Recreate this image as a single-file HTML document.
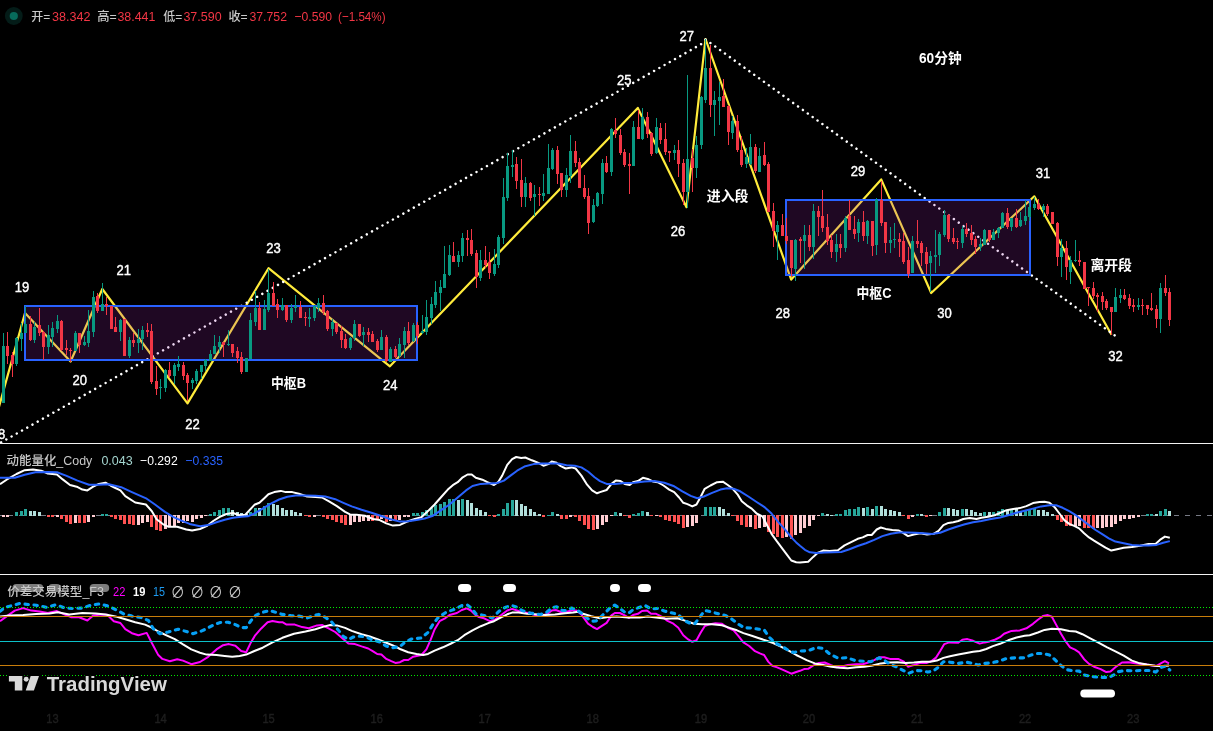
<!DOCTYPE html>
<html lang="zh"><head><meta charset="utf-8"><title>chart</title>
<style>html,body{margin:0;padding:0;background:#000;overflow:hidden}svg{display:block}</style></head>
<body>
<svg width="1213" height="731" viewBox="0 0 1213 731" font-family='"Liberation Sans","Noto Sans CJK SC",sans-serif'>
<rect width="1213" height="731" fill="#000"/>
<polyline points="-3.0,414.0 25.0,313.0 70.6,361.5 102.3,289.0 187.5,403.4 268.5,268.2 389.9,366.3 637.8,107.9 686.5,207.2 705.5,39.0 791.2,279.6 881.2,179.4 931.2,293.0 1034.3,196.3 1111.5,334.8" fill="none" stroke="#ffeb3b" stroke-width="2.2" stroke-linejoin="round"/>
<polyline points="-4.1,445.4 705.5,41.7" fill="none" stroke="#fff" stroke-width="2.5" stroke-dasharray="0.01 6" stroke-linecap="round"/>
<polyline points="705.5,39.5 1116.5,336.7" fill="none" stroke="#fff" stroke-width="2.5" stroke-dasharray="0.01 6" stroke-linecap="round"/>
<rect x="25" y="306" width="392" height="54" fill="rgba(156,39,176,0.2)" stroke="#2962ff" stroke-width="2"/>
<rect x="786" y="200" width="244" height="75" fill="rgba(156,39,176,0.2)" stroke="#2962ff" stroke-width="2"/>
<path d="M3.5 333V403M16.5 337V366M21.5 323V351M25.5 306V333M34.5 322V343M48.5 325V354M52.5 322V347M57.5 315V333M75.5 331V351M84.5 336V346M88.5 310V347M93.5 291V337M102.5 283V311M120.5 319V341M129.5 337V358M138.5 329V353M142.5 326V350M160.5 379V399M165.5 369V392M174.5 363V384M178.5 356V371M192.5 378V389M196.5 369V384M201.5 365V379M205.5 359V371M210.5 350V361M214.5 335V354M219.5 336V353M228.5 330V346M246.5 358V372M250.5 313V359M255.5 291V326M264.5 300V330M268.5 269V312M282.5 298V311M291.5 304V323M295.5 295V312M309.5 308V327M314.5 305V321M318.5 298V312M332.5 319V336M350.5 337V350M354.5 320V341M363.5 327V346M381.5 330V350M390.5 347V362M399.5 338V358M404.5 327V358M413.5 323V342M422.5 315V334M426.5 300V335M431.5 297V324M435.5 281V308M440.5 280V311M444.5 246V288M449.5 245V276M458.5 251V267M462.5 233V262M480.5 250V281M494.5 249V276M498.5 235V268M503.5 178V244M507.5 153V201M512.5 150V177M525.5 177V207M534.5 185V216M543.5 174V201M548.5 144V194M552.5 148V170M566.5 168V197M570.5 135V183M593.5 199V223M597.5 192V207M602.5 159V204M611.5 128V176M633.5 121V166M642.5 108V140M656.5 118V154M674.5 145V160M687.5 75V208M696.5 136V178M701.5 96V149M705.5 39V103M714.5 91V136M719.5 82V125M732.5 116V139M746.5 148V168M750.5 134V165M759.5 148V172M777.5 221V260M795.5 239V281M804.5 225V269M813.5 204V259M836.5 234V262M845.5 216V252M858.5 219V242M867.5 220V244M876.5 198V255M890.5 227V253M894.5 223V248M912.5 236V273M930.5 251V292M935.5 230V273M939.5 232V266M944.5 210V237M962.5 226V248M980.5 238V251M984.5 229V245M993.5 229V240M998.5 227V238M1002.5 212V228M1011.5 218V231M1020.5 212V227M1025.5 200V225M1029.5 203V221M1034.5 197V210M1043.5 204V217M1061.5 239V277M1070.5 256V284M1075.5 240V262M1115.5 288V312M1120.5 289V303M1138.5 298V310M1160.5 283V333" stroke="#089981" stroke-width="1" fill="none" shape-rendering="crispEdges"/>
<path d="M2 346h3v57h-3zM15 338h3v26h-3zM20 333h3v6h-3zM24 324h3v9h-3zM33 327h3v13h-3zM47 335h3v12h-3zM51 328h3v9h-3zM56 321h3v8h-3zM74 333h3v18h-3zM83 342h3v3h-3zM87 331h3v12h-3zM92 297h3v35h-3zM101 304h3v7h-3zM119 320h3v12h-3zM128 340h3v16h-3zM137 339h3v4h-3zM141 330h3v9h-3zM159 387h3v1h-3zM164 370h3v18h-3zM173 365h3v11h-3zM177 364h3v3h-3zM191 380h3v3h-3zM195 371h3v10h-3zM200 365h3v7h-3zM204 360h3v6h-3zM209 354h3v7h-3zM213 346h3v8h-3zM218 342h3v5h-3zM227 344h3v1h-3zM245 358h3v14h-3zM249 320h3v39h-3zM254 308h3v14h-3zM263 309h3v21h-3zM267 293h3v17h-3zM281 305h3v5h-3zM290 308h3v12h-3zM294 306h3v2h-3zM308 317h3v2h-3zM313 306h3v12h-3zM317 303h3v5h-3zM331 322h3v7h-3zM349 338h3v10h-3zM353 324h3v14h-3zM362 332h3v3h-3zM380 337h3v13h-3zM389 349h3v13h-3zM398 344h3v12h-3zM403 331h3v14h-3zM412 325h3v16h-3zM421 331h3v2h-3zM425 317h3v15h-3zM430 304h3v14h-3zM434 292h3v13h-3zM439 287h3v6h-3zM443 274h3v14h-3zM448 255h3v20h-3zM457 255h3v7h-3zM461 238h3v18h-3zM479 260h3v18h-3zM493 264h3v10h-3zM497 237h3v28h-3zM502 197h3v41h-3zM506 166h3v32h-3zM511 165h3v2h-3zM524 183h3v14h-3zM533 194h3v3h-3zM542 193h3v3h-3zM547 168h3v26h-3zM551 150h3v19h-3zM565 175h3v15h-3zM569 151h3v25h-3zM592 205h3v17h-3zM596 193h3v13h-3zM601 163h3v31h-3zM610 129h3v43h-3zM632 127h3v39h-3zM641 117h3v22h-3zM655 127h3v26h-3zM673 150h3v3h-3zM686 159h3v33h-3zM695 145h3v23h-3zM700 97h3v48h-3zM704 68h3v32h-3zM713 100h3v5h-3zM718 97h3v4h-3zM731 121h3v12h-3zM745 157h3v7h-3zM749 147h3v17h-3zM758 156h3v16h-3zM776 225h3v7h-3zM794 240h3v29h-3zM803 235h3v6h-3zM812 211h3v36h-3zM835 244h3v8h-3zM844 218h3v30h-3zM857 222h3v11h-3zM866 221h3v15h-3zM875 200h3v45h-3zM889 240h3v3h-3zM893 239h3v1h-3zM911 241h3v32h-3zM929 256h3v7h-3zM934 255h3v2h-3zM938 234h3v21h-3zM943 215h3v20h-3zM961 229h3v14h-3zM979 244h3v3h-3zM983 230h3v15h-3zM992 232h3v8h-3zM997 228h3v5h-3zM1001 213h3v15h-3zM1010 218h3v9h-3zM1019 220h3v6h-3zM1024 216h3v5h-3zM1028 207h3v10h-3zM1033 204h3v4h-3zM1042 206h3v4h-3zM1060 248h3v9h-3zM1069 260h3v12h-3zM1074 260h3v1h-3zM1114 297h3v15h-3zM1119 295h3v3h-3zM1137 305h3v2h-3zM1159 288h3v31h-3z" fill="#089981" shape-rendering="crispEdges"/>
<path d="M7.5 332V364M12.5 352V377M30.5 316V341M39.5 308V336M43.5 331V360M61.5 320V351M66.5 340V355M70.5 348V362M79.5 333V353M97.5 293V313M106.5 297V315M111.5 306V329M115.5 317V332M124.5 319V356M133.5 333V347M147.5 323V337M151.5 324V384M156.5 366V395M169.5 362V378M183.5 362V380M187.5 373V401M223.5 342V357M232.5 344V357M237.5 347V363M241.5 352V374M259.5 302V330M273.5 282V306M277.5 299V318M286.5 305V322M300.5 301V318M305.5 312V326M323.5 295V315M327.5 310V331M336.5 323V334M341.5 326V348M345.5 334V349M359.5 324V337M368.5 328V342M372.5 331V342M377.5 339V352M386.5 335V362M395.5 346V358M408.5 322V345M417.5 322V344M453.5 242V262M467.5 230V256M471.5 229V256M476.5 250V288M485.5 246V268M489.5 252V279M516.5 157V189M521.5 159V207M530.5 182V201M539.5 187V206M557.5 146V184M561.5 173V197M575.5 141V167M579.5 158V188M584.5 175V199M588.5 188V234M606.5 156V173M615.5 118V138M620.5 129V155M624.5 149V167M629.5 153V194M638.5 110V139M647.5 112V138M651.5 132V156M660.5 123V144M665.5 123V155M669.5 151V162M678.5 140V177M683.5 159V205M692.5 149V192M710.5 45V117M723.5 79V107M728.5 105V145M737.5 115V152M741.5 136V167M755.5 144V173M764.5 142V166M768.5 162V212M773.5 203V247M782.5 214V236M786.5 218V244M791.5 240V277M800.5 237V263M809.5 225V251M818.5 206V236M822.5 190V232M827.5 214V245M831.5 235V258M840.5 234V258M849.5 200V230M854.5 216V239M863.5 211V241M872.5 221V256M881.5 181V226M885.5 222V253M899.5 233V257M903.5 233V264M908.5 247V278M917.5 220V248M921.5 241V266M926.5 247V274M948.5 214V242M953.5 228V244M957.5 238V249M966.5 223V237M971.5 225V245M975.5 236V254M989.5 230V242M1007.5 208V229M1016.5 209V228M1038.5 199V210M1047.5 204V216M1052.5 212V224M1057.5 222V266M1066.5 241V280M1079.5 251V266M1084.5 262V289M1088.5 287V306M1093.5 282V299M1097.5 293V312M1102.5 292V310M1106.5 299V310M1111.5 307V335M1124.5 289V300M1129.5 294V309M1133.5 299V312M1142.5 299V315M1147.5 305V315M1151.5 293V311M1156.5 305V328M1165.5 275V296M1169.5 288V326" stroke="#f23645" stroke-width="1" fill="none" shape-rendering="crispEdges"/>
<path d="M6 346h3v10h-3zM11 355h3v9h-3zM29 324h3v16h-3zM38 325h3v8h-3zM42 332h3v15h-3zM60 321h3v29h-3zM65 348h3v2h-3zM69 350h3v1h-3zM78 333h3v12h-3zM96 296h3v15h-3zM105 304h3v2h-3zM110 306h3v23h-3zM114 327h3v5h-3zM123 319h3v37h-3zM132 340h3v3h-3zM146 330h3v2h-3zM150 331h3v51h-3zM155 381h3v8h-3zM168 370h3v6h-3zM182 365h3v11h-3zM186 375h3v8h-3zM222 342h3v3h-3zM231 344h3v9h-3zM236 351h3v7h-3zM240 357h3v15h-3zM258 308h3v22h-3zM272 293h3v13h-3zM276 304h3v6h-3zM285 305h3v15h-3zM299 307h3v11h-3zM304 317h3v1h-3zM322 303h3v9h-3zM326 311h3v18h-3zM335 323h3v9h-3zM340 331h3v9h-3zM344 339h3v9h-3zM358 324h3v12h-3zM367 332h3v3h-3zM371 334h3v8h-3zM376 341h3v9h-3zM385 337h3v24h-3zM394 349h3v8h-3zM407 331h3v12h-3zM416 325h3v11h-3zM452 256h3v6h-3zM466 238h3v2h-3zM470 240h3v14h-3zM475 253h3v24h-3zM484 260h3v5h-3zM488 262h3v11h-3zM515 164h3v17h-3zM520 180h3v17h-3zM529 183h3v15h-3zM538 194h3v1h-3zM556 150h3v24h-3zM560 173h3v17h-3zM574 151h3v12h-3zM578 162h3v26h-3zM583 188h3v9h-3zM587 196h3v27h-3zM605 163h3v9h-3zM614 130h3v4h-3zM619 135h3v18h-3zM623 152h3v13h-3zM628 164h3v2h-3zM637 127h3v12h-3zM646 117h3v17h-3zM650 133h3v21h-3zM659 128h3v12h-3zM664 139h3v13h-3zM668 151h3v2h-3zM677 150h3v14h-3zM682 163h3v29h-3zM691 158h3v10h-3zM709 68h3v37h-3zM722 96h3v11h-3zM727 106h3v26h-3zM736 121h3v29h-3zM740 150h3v15h-3zM754 147h3v24h-3zM763 155h3v10h-3zM767 164h3v48h-3zM772 211h3v20h-3zM781 225h3v11h-3zM785 236h3v5h-3zM790 240h3v28h-3zM799 239h3v2h-3zM808 235h3v12h-3zM817 211h3v6h-3zM821 216h3v12h-3zM826 227h3v14h-3zM830 240h3v12h-3zM839 244h3v4h-3zM848 216h3v14h-3zM853 229h3v5h-3zM862 222h3v14h-3zM871 221h3v25h-3zM880 200h3v23h-3zM884 222h3v21h-3zM898 239h3v3h-3zM902 241h3v21h-3zM907 260h3v14h-3zM916 241h3v3h-3zM920 243h3v10h-3zM925 252h3v12h-3zM947 215h3v24h-3zM952 238h3v4h-3zM956 241h3v1h-3zM965 229h3v5h-3zM970 233h3v7h-3zM974 239h3v8h-3zM988 230h3v10h-3zM1006 213h3v14h-3zM1015 218h3v9h-3zM1037 204h3v5h-3zM1046 206h3v8h-3zM1051 212h3v12h-3zM1056 223h3v34h-3zM1065 248h3v19h-3zM1078 260h3v2h-3zM1083 262h3v27h-3zM1087 287h3v1h-3zM1092 288h3v8h-3zM1096 295h3v2h-3zM1101 296h3v6h-3zM1105 301h3v7h-3zM1110 307h3v5h-3zM1123 295h3v4h-3zM1128 298h3v8h-3zM1132 305h3v2h-3zM1141 305h3v1h-3zM1146 305h3v4h-3zM1150 308h3v2h-3zM1155 309h3v10h-3zM1164 288h3v5h-3zM1168 292h3v28h-3z" fill="#f23645" shape-rendering="crispEdges"/>
<text x="-2" y="439" font-size="14" fill="#fff" font-weight="normal" text-anchor="middle" textLength="14.5" lengthAdjust="spacingAndGlyphs" stroke="#fff" stroke-width="0.4">18</text>
<text x="22" y="292" font-size="14" fill="#fff" font-weight="normal" text-anchor="middle" textLength="14.5" lengthAdjust="spacingAndGlyphs" stroke="#fff" stroke-width="0.4">19</text>
<text x="79.7" y="384.6" font-size="14" fill="#fff" font-weight="normal" text-anchor="middle" textLength="14.5" lengthAdjust="spacingAndGlyphs" stroke="#fff" stroke-width="0.4">20</text>
<text x="123.7" y="275" font-size="14" fill="#fff" font-weight="normal" text-anchor="middle" textLength="14.5" lengthAdjust="spacingAndGlyphs" stroke="#fff" stroke-width="0.4">21</text>
<text x="192.5" y="429" font-size="14" fill="#fff" font-weight="normal" text-anchor="middle" textLength="14.5" lengthAdjust="spacingAndGlyphs" stroke="#fff" stroke-width="0.4">22</text>
<text x="273.5" y="253" font-size="14" fill="#fff" font-weight="normal" text-anchor="middle" textLength="14.5" lengthAdjust="spacingAndGlyphs" stroke="#fff" stroke-width="0.4">23</text>
<text x="390.3" y="390" font-size="14" fill="#fff" font-weight="normal" text-anchor="middle" textLength="14.5" lengthAdjust="spacingAndGlyphs" stroke="#fff" stroke-width="0.4">24</text>
<text x="624.3" y="85" font-size="14" fill="#fff" font-weight="normal" text-anchor="middle" textLength="14.5" lengthAdjust="spacingAndGlyphs" stroke="#fff" stroke-width="0.4">25</text>
<text x="678" y="236" font-size="14" fill="#fff" font-weight="normal" text-anchor="middle" textLength="14.5" lengthAdjust="spacingAndGlyphs" stroke="#fff" stroke-width="0.4">26</text>
<text x="686.7" y="41" font-size="14" fill="#fff" font-weight="normal" text-anchor="middle" textLength="14.5" lengthAdjust="spacingAndGlyphs" stroke="#fff" stroke-width="0.4">27</text>
<text x="782.8" y="317.5" font-size="14" fill="#fff" font-weight="normal" text-anchor="middle" textLength="14.5" lengthAdjust="spacingAndGlyphs" stroke="#fff" stroke-width="0.4">28</text>
<text x="858" y="176" font-size="14" fill="#fff" font-weight="normal" text-anchor="middle" textLength="14.5" lengthAdjust="spacingAndGlyphs" stroke="#fff" stroke-width="0.4">29</text>
<text x="944.6" y="317.5" font-size="14" fill="#fff" font-weight="normal" text-anchor="middle" textLength="14.5" lengthAdjust="spacingAndGlyphs" stroke="#fff" stroke-width="0.4">30</text>
<text x="1043" y="178.3" font-size="14" fill="#fff" font-weight="normal" text-anchor="middle" textLength="14.5" lengthAdjust="spacingAndGlyphs" stroke="#fff" stroke-width="0.4">31</text>
<text x="1115.4" y="361" font-size="14" fill="#fff" font-weight="normal" text-anchor="middle" textLength="14.5" lengthAdjust="spacingAndGlyphs" stroke="#fff" stroke-width="0.4">32</text>
<text x="288.5" y="387.5" font-size="14" fill="#fff" font-weight="bold" text-anchor="middle" textLength="35" lengthAdjust="spacingAndGlyphs" >中枢B</text>
<text x="874" y="298" font-size="14" fill="#fff" font-weight="bold" text-anchor="middle" textLength="35" lengthAdjust="spacingAndGlyphs" >中枢C</text>
<text x="727.6" y="201" font-size="14" fill="#fff" font-weight="bold" text-anchor="middle" textLength="41.7" lengthAdjust="spacingAndGlyphs" >进入段</text>
<text x="1111.2" y="270" font-size="14" fill="#fff" font-weight="bold" text-anchor="middle" textLength="41.6" lengthAdjust="spacingAndGlyphs" >离开段</text>
<text x="940.3" y="62.5" font-size="14" fill="#fff" font-weight="bold" text-anchor="middle" textLength="42.6" lengthAdjust="spacingAndGlyphs" >60分钟</text>
<circle cx="13.8" cy="16" r="8.9" fill="#041c18"/><circle cx="13.8" cy="16" r="4.1" fill="#076b5b"/>
<text x="31.3" y="21" font-size="12" fill="#c8c8c8" font-weight="500" text-anchor="start" textLength="19" lengthAdjust="spacingAndGlyphs" >开=</text>
<text x="51.9" y="21" font-size="13" fill="#f23645" font-weight="500" text-anchor="start" textLength="38.5" lengthAdjust="spacingAndGlyphs" >38.342</text>
<text x="97.3" y="21" font-size="12" fill="#c8c8c8" font-weight="500" text-anchor="start" textLength="19.5" lengthAdjust="spacingAndGlyphs" >高=</text>
<text x="117.4" y="21" font-size="13" fill="#f23645" font-weight="500" text-anchor="start" textLength="38" lengthAdjust="spacingAndGlyphs" >38.441</text>
<text x="163.2" y="21" font-size="12" fill="#c8c8c8" font-weight="500" text-anchor="start" textLength="19" lengthAdjust="spacingAndGlyphs" >低=</text>
<text x="183.4" y="21" font-size="13" fill="#f23645" font-weight="500" text-anchor="start" textLength="38.2" lengthAdjust="spacingAndGlyphs" >37.590</text>
<text x="228.4" y="21" font-size="12" fill="#c8c8c8" font-weight="500" text-anchor="start" textLength="19.2" lengthAdjust="spacingAndGlyphs" >收=</text>
<text x="249.4" y="21" font-size="13" fill="#f23645" font-weight="500" text-anchor="start" textLength="37.6" lengthAdjust="spacingAndGlyphs" >37.752</text>
<text x="294.4" y="21" font-size="13" fill="#f23645" font-weight="500" text-anchor="start" textLength="37.6" lengthAdjust="spacingAndGlyphs" >−0.590</text>
<text x="338" y="21" font-size="13" fill="#f23645" font-weight="500" text-anchor="start" textLength="47.6" lengthAdjust="spacingAndGlyphs" >(−1.54%)</text>
<rect x="0" y="443" width="1213" height="1" fill="#f2f2f2"/>
<rect x="0" y="574" width="1213" height="1" fill="#f2f2f2"/>
<path d="M0 515.5H1213" stroke="#787b86" stroke-width="1" stroke-dasharray="5 6" stroke-dashoffset="3"/>
<path d="M15 512h3v4h-3zM20 511h3v5h-3zM24 509h3v7h-3zM101 514h3v2h-3zM105 514h3v2h-3zM209 514h3v2h-3zM213 512h3v4h-3zM218 510h3v6h-3zM222 508h3v8h-3zM227 508h3v8h-3zM249 512h3v4h-3zM254 508h3v8h-3zM263 506h3v10h-3zM267 503h3v13h-3zM412 513h3v3h-3zM416 513h3v3h-3zM421 512h3v4h-3zM425 510h3v6h-3zM430 508h3v8h-3zM434 505h3v11h-3zM439 504h3v12h-3zM443 502h3v14h-3zM448 499h3v17h-3zM452 499h3v17h-3zM461 499h3v17h-3zM497 514h3v2h-3zM502 509h3v7h-3zM506 503h3v13h-3zM511 500h3v16h-3zM547 515h3v1h-3zM551 512h3v4h-3zM614 512h3v4h-3zM632 514h3v2h-3zM637 513h3v3h-3zM641 511h3v5h-3zM704 507h3v9h-3zM709 507h3v9h-3zM713 507h3v9h-3zM821 513h3v3h-3zM835 514h3v2h-3zM839 514h3v2h-3zM844 510h3v6h-3zM848 509h3v7h-3zM853 509h3v7h-3zM857 507h3v9h-3zM866 507h3v9h-3zM875 506h3v10h-3zM916 514h3v2h-3zM938 512h3v4h-3zM943 508h3v8h-3zM961 509h3v7h-3zM983 512h3v4h-3zM992 512h3v4h-3zM997 511h3v5h-3zM1001 509h3v7h-3zM1010 510h3v6h-3zM1024 511h3v5h-3zM1028 510h3v6h-3zM1033 508h3v8h-3zM1146 514h3v2h-3zM1150 514h3v2h-3zM1159 511h3v5h-3zM1164 509h3v7h-3z" fill="#26a69a" shape-rendering="crispEdges"/>
<path d="M2 515h3v2h-3zM6 515h3v2h-3zM56 515h3v2h-3zM74 515h3v8h-3zM87 515h3v7h-3zM92 515h3v2h-3zM137 515h3v10h-3zM141 515h3v8h-3zM146 515h3v7h-3zM164 515h3v14h-3zM168 515h3v12h-3zM173 515h3v11h-3zM177 515h3v8h-3zM182 515h3v8h-3zM186 515h3v6h-3zM191 515h3v7h-3zM195 515h3v4h-3zM200 515h3v3h-3zM204 515h3v1h-3zM313 515h3v2h-3zM349 515h3v10h-3zM353 515h3v7h-3zM358 515h3v7h-3zM362 515h3v6h-3zM367 515h3v6h-3zM380 515h3v4h-3zM389 515h3v6h-3zM398 515h3v5h-3zM403 515h3v2h-3zM407 515h3v2h-3zM569 515h3v2h-3zM596 515h3v14h-3zM601 515h3v10h-3zM605 515h3v7h-3zM610 515h3v1h-3zM655 515h3v1h-3zM686 515h3v12h-3zM691 515h3v11h-3zM695 515h3v8h-3zM749 515h3v12h-3zM758 515h3v13h-3zM763 515h3v12h-3zM785 515h3v22h-3zM794 515h3v20h-3zM799 515h3v18h-3zM803 515h3v13h-3zM808 515h3v11h-3zM812 515h3v5h-3zM817 515h3v1h-3zM911 515h3v2h-3zM929 515h3v1h-3zM1074 515h3v11h-3zM1078 515h3v11h-3zM1096 515h3v13h-3zM1101 515h3v13h-3zM1105 515h3v12h-3zM1110 515h3v12h-3zM1114 515h3v9h-3zM1119 515h3v6h-3zM1123 515h3v4h-3zM1128 515h3v4h-3zM1132 515h3v3h-3zM1137 515h3v2h-3z" fill="#ffcdd2" shape-rendering="crispEdges"/>
<path d="M29 511h3v5h-3zM33 511h3v5h-3zM38 512h3v4h-3zM231 510h3v6h-3zM236 512h3v4h-3zM240 513h3v3h-3zM245 514h3v2h-3zM258 508h3v8h-3zM272 504h3v12h-3zM276 505h3v11h-3zM281 508h3v8h-3zM285 510h3v6h-3zM290 510h3v6h-3zM294 512h3v4h-3zM299 513h3v3h-3zM457 500h3v16h-3zM466 500h3v16h-3zM470 503h3v13h-3zM475 508h3v8h-3zM479 510h3v6h-3zM484 512h3v4h-3zM515 500h3v16h-3zM520 504h3v12h-3zM524 506h3v10h-3zM529 509h3v7h-3zM533 512h3v4h-3zM538 514h3v2h-3zM556 514h3v2h-3zM619 513h3v3h-3zM646 512h3v4h-3zM718 507h3v9h-3zM722 509h3v7h-3zM727 513h3v3h-3zM826 514h3v2h-3zM830 515h3v1h-3zM862 508h3v8h-3zM871 509h3v7h-3zM880 506h3v10h-3zM884 509h3v7h-3zM889 510h3v6h-3zM893 511h3v5h-3zM898 512h3v4h-3zM920 514h3v2h-3zM947 508h3v8h-3zM952 509h3v7h-3zM956 510h3v6h-3zM965 509h3v7h-3zM970 510h3v6h-3zM974 512h3v4h-3zM979 513h3v3h-3zM988 512h3v4h-3zM1006 510h3v6h-3zM1015 509h3v7h-3zM1019 511h3v5h-3zM1037 510h3v6h-3zM1042 510h3v6h-3zM1046 512h3v4h-3zM1051 514h3v2h-3zM1155 514h3v2h-3zM1168 511h3v5h-3z" fill="#b2dfdb" shape-rendering="crispEdges"/>
<path d="M47 515h3v2h-3zM51 515h3v2h-3zM60 515h3v4h-3zM65 515h3v7h-3zM69 515h3v9h-3zM78 515h3v8h-3zM83 515h3v8h-3zM110 515h3v2h-3zM114 515h3v4h-3zM119 515h3v5h-3zM123 515h3v9h-3zM128 515h3v9h-3zM132 515h3v10h-3zM150 515h3v12h-3zM155 515h3v15h-3zM159 515h3v16h-3zM304 515h3v1h-3zM308 515h3v2h-3zM322 515h3v2h-3zM326 515h3v4h-3zM331 515h3v5h-3zM335 515h3v7h-3zM340 515h3v8h-3zM344 515h3v10h-3zM371 515h3v6h-3zM376 515h3v4h-3zM385 515h3v7h-3zM394 515h3v6h-3zM488 515h3v1h-3zM493 515h3v2h-3zM542 515h3v2h-3zM560 515h3v4h-3zM565 515h3v4h-3zM574 515h3v2h-3zM578 515h3v6h-3zM583 515h3v10h-3zM587 515h3v14h-3zM592 515h3v15h-3zM623 515h3v1h-3zM628 515h3v3h-3zM650 515h3v1h-3zM659 515h3v2h-3zM664 515h3v5h-3zM668 515h3v6h-3zM673 515h3v7h-3zM677 515h3v9h-3zM682 515h3v13h-3zM731 515h3v1h-3zM736 515h3v6h-3zM740 515h3v10h-3zM745 515h3v12h-3zM754 515h3v14h-3zM767 515h3v17h-3zM772 515h3v19h-3zM776 515h3v22h-3zM781 515h3v23h-3zM790 515h3v24h-3zM902 515h3v1h-3zM907 515h3v4h-3zM925 515h3v2h-3zM1056 515h3v5h-3zM1060 515h3v7h-3zM1065 515h3v11h-3zM1069 515h3v11h-3zM1083 515h3v13h-3zM1087 515h3v13h-3zM1092 515h3v14h-3z" fill="#ff5252" shape-rendering="crispEdges"/>
<polyline points="0.0,484.3 6.6,479.7 16.5,474.0 24.7,470.2 33.0,469.5 41.2,470.7 47.8,473.5 56.9,474.5 62.7,479.4 70.0,485.0 76.7,486.7 82.4,489.6 87.4,490.4 93.2,486.7 98.9,483.9 105.5,482.7 110.5,485.5 115.4,488.0 120.4,490.4 125.3,496.2 135.2,502.5 145.9,504.5 151.7,511.0 156.6,519.3 163.2,524.3 168.2,526.7 177.2,526.7 186.3,529.5 192.1,530.5 200.0,529.0 206.6,526.2 213.2,521.0 219.8,516.8 226.4,514.0 233.0,513.0 239.6,515.2 245.3,514.7 249.5,510.2 254.4,504.8 259.4,502.8 264.3,498.2 268.4,494.2 274.2,492.1 280.8,490.9 285.7,492.1 292.3,492.1 298.9,493.7 307.2,496.5 315.4,497.0 322.0,497.5 328.6,501.2 336.9,506.1 345.1,511.9 350.0,514.4 356.6,514.7 364.9,515.7 373.1,519.0 379.7,520.1 386.3,523.4 392.9,525.6 400.0,524.9 406.6,521.8 414.8,519.0 421.4,517.3 428.0,511.1 434.6,504.5 441.2,497.0 447.8,489.6 452.8,485.2 457.7,482.2 462.7,477.3 467.6,474.5 471.7,474.5 475.8,477.8 482.4,479.7 487.4,482.2 494.0,485.0 498.1,482.2 502.2,475.6 507.2,464.9 512.1,459.1 516.2,457.0 521.2,458.0 525.3,457.5 531.9,460.3 538.5,462.9 543.4,465.7 548.4,464.1 551.7,461.6 555.8,462.4 560.8,466.2 565.7,468.5 571.5,467.4 575.6,468.5 581.4,475.6 587.1,484.7 592.1,490.4 597.0,493.3 600.0,492.1 606.6,490.0 611.5,483.9 615.7,480.6 620.6,481.1 624.7,483.9 629.7,485.0 633.0,482.2 637.9,481.1 642.9,477.8 647.8,478.9 652.8,481.4 657.7,482.2 663.5,485.5 669.2,489.6 674.2,492.1 679.1,497.5 683.3,502.8 687.4,504.1 692.3,506.4 696.5,504.5 700.6,497.0 704.7,488.8 710.5,485.5 717.1,482.2 722.8,481.7 727.8,485.0 732.7,488.8 737.7,494.6 741.8,501.2 746.7,505.3 751.7,508.6 756.6,513.5 762.4,516.3 766.5,524.3 771.5,533.8 776.4,540.7 781.4,547.3 786.3,553.9 791.3,560.5 796.2,562.2 800.0,562.5 808.2,561.8 813.2,556.9 818.1,552.6 823.1,550.6 829.7,551.0 837.9,550.3 844.5,545.4 851.1,542.1 857.7,538.8 862.7,537.4 867.6,535.0 871.7,535.0 876.7,529.5 880.8,527.5 885.7,528.9 892.3,530.0 898.9,530.5 903.9,533.3 908.0,536.1 913.8,534.5 920.4,533.3 927.0,534.5 933.6,533.8 938.5,530.8 943.4,525.1 948.4,522.9 953.3,522.3 958.3,521.0 963.2,519.0 969.8,518.0 976.4,519.0 981.4,517.7 988.0,516.8 994.6,515.2 1000.0,513.0 1006.6,510.2 1013.2,509.1 1019.8,508.1 1026.4,506.1 1033.0,503.1 1039.6,502.0 1044.5,501.7 1049.5,502.8 1054.4,506.9 1059.4,513.5 1064.3,520.1 1069.2,523.9 1074.2,525.9 1079.1,528.4 1084.1,533.3 1089.0,537.4 1094.0,540.7 1098.9,543.7 1105.5,547.7 1111.3,550.6 1117.1,549.3 1123.7,547.7 1131.9,547.0 1140.2,545.7 1148.4,544.0 1155.8,543.7 1159.9,539.9 1164.9,536.6 1169.8,537.8" fill="none" stroke="#fff" stroke-width="2" stroke-linejoin="round"/>
<polyline points="0.0,477.8 14.8,477.8 24.7,474.8 35.4,472.3 47.8,472.0 56.9,472.3 66.0,475.6 77.5,480.6 89.0,484.7 98.9,484.7 108.8,484.3 121.2,487.2 131.9,492.1 146.7,498.7 155.0,504.5 164.9,511.9 173.1,516.8 181.4,520.6 189.6,523.9 200.0,526.2 208.2,525.1 216.5,522.3 224.7,519.8 233.0,517.7 241.2,516.8 247.8,516.3 254.4,513.5 262.7,508.6 270.9,503.6 279.1,499.5 287.4,496.7 295.6,495.4 305.5,495.4 315.4,495.7 325.3,496.5 335.2,499.2 343.4,502.8 351.7,506.4 361.6,509.7 371.5,512.7 381.4,516.0 389.6,519.0 400.0,521.6 408.2,521.3 416.5,520.1 424.7,518.5 433.0,515.7 441.2,510.2 449.5,504.5 457.7,497.5 466.0,490.4 472.5,486.0 480.8,483.9 489.0,483.4 497.3,483.0 503.9,480.6 510.5,475.6 517.1,470.7 525.3,466.2 533.6,464.1 541.8,463.6 550.0,463.6 558.3,463.6 566.5,465.2 574.8,465.7 581.4,467.4 588.0,471.5 594.6,477.3 600.0,481.1 606.6,483.9 614.8,483.9 624.7,483.0 634.6,482.7 644.5,481.4 654.4,481.1 664.3,482.7 674.2,486.3 682.4,491.3 690.7,495.9 697.3,498.2 703.9,496.5 712.1,492.9 720.4,489.6 727.0,488.3 733.6,488.8 740.2,491.3 748.4,496.5 756.6,502.0 764.9,507.4 771.5,513.5 778.1,521.8 784.7,529.2 791.3,537.4 796.2,542.4 800.0,545.8 804.9,549.8 809.9,552.3 816.5,553.1 824.7,552.6 833.0,552.3 841.2,552.0 849.5,549.3 857.7,546.0 866.0,543.2 874.2,539.9 882.4,536.1 890.7,533.8 898.9,532.5 907.2,532.5 915.4,532.8 923.7,533.3 931.9,534.1 940.2,532.8 948.4,529.5 956.6,526.7 964.9,524.3 973.1,522.3 981.4,521.0 989.6,519.3 1000.0,517.5 1008.2,515.2 1016.5,512.7 1024.7,510.7 1033.0,508.6 1041.2,506.4 1049.5,505.3 1056.1,505.3 1062.7,507.8 1069.2,511.1 1075.8,515.2 1082.4,520.1 1089.0,525.1 1095.6,530.0 1102.2,534.1 1108.8,538.3 1115.4,541.6 1123.7,543.2 1131.9,544.9 1140.2,545.4 1148.4,545.4 1156.6,544.9 1163.2,542.7 1169.8,541.1" fill="none" stroke="#2962ff" stroke-width="2" stroke-linejoin="round"/>
<text x="6.6" y="464.5" font-size="12.2" fill="#c8c8c8" font-weight="500" text-anchor="start" textLength="85.7" lengthAdjust="spacingAndGlyphs" >动能量化_Cody</text>
<text x="101.4" y="464.5" font-size="13" fill="#a5d6d0" font-weight="normal" text-anchor="start" textLength="31.3" lengthAdjust="spacingAndGlyphs" >0.043</text>
<text x="140" y="464.5" font-size="13" fill="#fff" font-weight="normal" text-anchor="start" textLength="37.7" lengthAdjust="spacingAndGlyphs" >−0.292</text>
<text x="185.5" y="464.5" font-size="13" fill="#2962ff" font-weight="normal" text-anchor="start" textLength="37.5" lengthAdjust="spacingAndGlyphs" >−0.335</text>
<polyline points="0.0,621.3 6.6,616.4 14.8,610.6 23.1,608.1 31.3,610.6 39.6,611.4 47.8,613.1 56.9,611.1 64.3,614.4 70.9,617.2 79.1,617.2 87.4,620.5 93.2,615.6 98.9,614.7 107.2,614.7 113.8,621.3 120.4,623.0 125.3,629.2 131.9,633.2 138.5,635.3 146.7,632.9 151.7,642.8 158.3,655.1 162.4,658.9 169.8,661.2 177.2,659.2 183.0,660.6 191.3,664.2 200.0,662.0 208.2,656.8 216.5,649.4 223.1,645.2 228.9,644.1 235.4,645.7 241.2,651.0 246.2,652.3 250.3,643.6 255.2,635.3 261.0,628.7 267.6,622.2 272.5,621.0 279.1,622.2 282.4,622.2 286.6,624.6 294.8,624.6 302.2,627.1 308.8,628.3 317.1,625.4 322.0,625.0 328.6,628.3 335.2,632.0 341.8,637.8 348.4,643.6 355.0,644.1 361.6,646.4 368.2,648.5 373.1,651.3 377.2,654.0 381.4,654.6 386.3,658.9 391.3,661.2 395.4,662.9 400.0,662.2 404.1,660.0 408.2,660.0 413.2,656.7 421.4,655.0 426.4,649.3 430.5,640.2 434.6,629.5 439.6,621.2 444.5,618.7 449.5,615.0 456.9,613.0 461.8,610.0 466.8,608.4 470.9,610.5 475.0,614.6 479.1,617.1 484.1,618.3 489.9,621.2 494.8,619.6 500.6,615.5 507.2,610.5 512.1,608.9 517.1,610.5 522.0,612.2 528.6,613.0 535.2,615.0 541.8,616.0 547.6,613.8 551.7,610.5 555.8,610.0 561.6,612.2 566.5,611.7 571.5,610.5 576.4,610.5 581.4,614.6 588.0,623.7 592.9,627.0 597.0,629.1 600.0,627.2 606.6,622.9 611.5,615.4 614.8,613.0 619.8,613.0 624.7,615.4 628.9,617.9 633.0,615.0 637.9,613.8 642.0,611.0 647.0,610.5 651.1,613.8 656.1,613.8 662.7,617.1 667.6,620.9 673.4,623.7 678.3,627.8 683.3,635.2 688.2,639.4 692.3,641.8 696.5,640.2 700.6,632.8 704.7,626.2 708.8,624.5 715.4,623.2 722.0,623.7 727.8,627.8 733.6,630.3 738.5,636.1 743.4,642.3 749.2,646.0 755.0,651.2 759.9,653.4 764.1,655.0 768.2,661.6 772.3,665.7 777.2,667.4 783.0,669.9 791.3,673.7 796.2,672.0 800.0,670.8 804.1,669.1 808.2,668.8 814.0,665.0 819.0,662.9 824.7,662.5 830.5,665.0 836.3,667.2 841.2,666.7 847.8,665.0 856.1,664.2 862.7,664.2 869.3,662.2 874.2,660.1 879.1,657.3 884.1,657.3 889.9,658.9 898.1,658.9 903.9,661.7 908.0,666.7 913.8,665.0 920.4,662.9 927.0,662.9 931.9,660.9 936.0,657.6 940.2,651.0 944.3,644.1 949.2,642.4 958.3,642.8 962.4,639.8 967.4,639.1 973.1,640.8 979.7,643.6 984.7,642.4 989.6,641.4 995.4,639.5 1000.0,637.2 1004.1,633.7 1011.5,630.9 1019.8,630.4 1026.4,628.3 1033.0,623.8 1037.9,619.7 1042.9,616.1 1047.8,615.1 1051.9,616.7 1056.1,624.6 1061.0,633.7 1066.0,641.9 1070.1,647.4 1075.0,649.7 1079.1,652.3 1084.1,659.2 1089.0,663.9 1094.0,666.7 1100.6,669.1 1106.3,672.1 1110.5,671.6 1115.4,667.2 1122.0,662.5 1128.6,662.2 1136.9,663.4 1145.1,664.2 1151.7,665.5 1156.6,665.8 1160.8,663.4 1164.9,661.2 1169.0,663.4" fill="none" stroke="#ff00ff" stroke-width="2" stroke-linejoin="round"/>
<polyline points="0.0,616.4 9.9,615.6 23.1,615.1 36.3,613.9 49.5,613.4 57.7,612.3 69.3,614.4 82.4,613.1 95.6,613.4 105.5,614.4 115.4,616.4 125.3,619.3 135.2,622.2 145.1,624.6 151.7,627.6 158.3,631.5 166.5,635.3 174.8,639.1 183.0,644.4 191.3,649.4 200.0,652.7 206.6,654.6 216.5,655.1 224.7,656.0 232.2,656.8 239.6,656.0 246.2,654.6 254.4,651.0 262.7,647.7 272.5,642.4 282.4,637.8 294.0,633.7 305.5,631.5 315.4,629.2 323.7,626.6 330.3,625.0 336.9,625.4 345.1,627.9 351.7,630.9 361.6,634.2 369.8,636.5 378.1,639.5 386.3,642.8 394.6,646.1 400.0,649.0 408.2,652.2 416.5,653.9 423.1,655.0 428.0,653.9 434.6,650.6 442.9,647.3 451.1,643.5 457.7,640.2 464.3,635.2 472.5,630.3 480.8,626.2 489.0,622.9 494.0,621.2 500.6,617.6 507.2,614.3 512.1,612.6 518.7,612.6 527.0,613.8 535.2,614.3 545.1,615.0 555.0,614.6 564.9,613.3 573.1,612.6 578.1,611.7 583.0,613.8 591.3,616.3 600.0,618.3 608.2,617.1 616.5,616.6 628.0,617.6 639.6,617.6 647.8,616.6 656.1,617.6 666.0,618.7 677.5,618.3 685.7,620.9 694.0,623.7 702.2,624.2 712.1,624.2 722.0,625.3 730.3,628.1 736.9,630.3 743.4,633.1 751.7,635.7 758.3,638.0 766.5,640.7 773.1,643.0 781.4,646.8 789.6,651.2 796.2,655.0 800.0,656.8 806.6,660.1 814.8,663.4 823.1,665.0 831.3,666.7 839.6,667.8 847.8,668.3 856.1,667.2 864.3,666.7 872.5,665.5 880.8,663.4 889.0,662.5 897.3,662.2 905.5,662.9 913.8,662.5 922.0,661.7 930.3,661.7 936.9,660.6 943.4,657.9 950.0,656.3 958.3,654.6 966.5,653.0 973.1,651.8 979.7,651.0 986.3,649.0 992.9,646.1 1000.0,643.8 1008.2,640.3 1016.5,637.5 1024.7,635.8 1029.7,635.3 1037.9,632.5 1044.5,629.9 1051.9,628.7 1061.0,629.2 1069.2,630.9 1075.8,631.5 1082.4,634.2 1090.7,638.6 1098.9,642.8 1107.2,647.4 1115.4,651.3 1123.7,655.6 1131.9,660.6 1138.5,662.9 1146.8,664.5 1155.0,665.8 1161.6,666.2 1169.0,665.5" fill="none" stroke="#fff" stroke-width="2" stroke-linejoin="round"/>
<polyline points="0.0,611.4 4.9,607.3 11.5,605.7 19.8,603.5 28.0,604.5 36.3,605.2 46.2,607.3 56.1,604.8 64.3,607.8 72.5,608.5 82.4,608.1 90.7,605.2 98.9,604.0 107.2,605.7 115.4,609.5 123.7,613.9 131.9,616.1 141.8,617.7 148.4,620.5 153.3,628.7 159.9,633.7 168.2,632.0 178.1,629.2 186.3,631.5 192.9,633.7 200.0,631.6 206.6,628.7 213.2,625.0 219.8,622.6 228.0,622.2 235.4,624.6 241.2,627.6 246.2,627.6 251.1,620.5 256.1,615.1 262.7,612.3 269.3,610.6 275.8,612.3 282.4,614.4 290.7,615.6 298.9,616.1 307.2,618.0 313.8,615.6 318.7,614.4 325.3,617.2 331.9,622.2 338.5,630.4 343.4,636.5 348.4,639.5 353.3,637.0 359.9,636.2 366.5,637.0 373.1,640.3 379.7,641.9 386.3,646.1 392.9,647.7 400.0,646.5 404.9,642.3 411.5,639.0 421.4,638.0 428.0,632.4 433.0,624.2 437.9,617.9 446.2,612.2 454.4,609.3 461.8,605.6 467.6,605.1 471.7,608.4 475.8,613.8 484.1,615.4 492.3,617.9 498.9,611.3 505.5,607.2 512.1,605.6 517.1,607.2 522.0,610.5 530.3,613.0 540.1,614.6 546.7,612.2 551.7,607.7 556.6,606.7 562.4,610.5 566.5,610.5 571.5,608.0 576.4,609.7 581.4,613.0 586.3,617.6 591.3,621.2 596.2,620.9 600.0,617.7 604.9,613.0 609.9,608.0 614.8,605.1 619.8,608.4 624.7,612.2 628.9,613.0 633.0,609.7 639.6,607.2 645.3,605.6 651.1,608.9 657.7,608.4 664.3,611.0 670.9,612.6 678.3,614.6 684.1,620.4 689.9,623.2 694.8,623.7 699.8,617.1 704.7,610.5 710.5,611.7 718.7,613.8 725.3,615.4 731.9,619.2 738.5,624.2 744.3,627.8 751.7,628.1 758.3,629.1 764.1,629.8 769.0,636.9 774.8,642.7 781.4,646.0 788.0,650.1 793.7,652.5 800.0,651.0 808.2,650.7 816.5,647.4 823.1,648.5 830.5,654.6 838.7,658.4 847.0,657.6 855.2,660.6 863.5,661.2 870.9,661.7 879.1,657.9 884.1,660.1 889.9,664.2 897.3,667.2 903.9,670.8 908.8,673.3 915.4,670.5 922.0,670.8 927.8,672.1 933.6,670.8 938.5,667.2 943.4,661.7 950.0,662.2 958.3,663.4 966.5,662.2 973.1,663.4 978.1,665.0 984.7,663.4 991.3,662.9 1000.0,661.0 1006.6,658.4 1014.8,657.9 1023.1,657.9 1029.7,655.6 1036.3,653.5 1042.9,653.5 1049.5,655.1 1054.4,659.2 1059.4,664.2 1066.0,669.5 1072.5,670.8 1079.1,671.1 1084.1,674.9 1092.3,676.6 1100.6,677.4 1108.8,677.4 1113.8,674.9 1118.7,671.6 1125.3,670.5 1133.6,670.8 1141.8,670.5 1150.0,670.5 1155.8,672.1 1160.8,667.5 1164.9,666.2 1169.8,670.0" fill="none" stroke="#06a0f5" stroke-width="3.1" stroke-dasharray="3.4 5.6" stroke-linecap="round" stroke-linejoin="round"/>
<path d="M0 607.5H1213M0 675.5H1213" stroke="#00ee00" stroke-width="1" stroke-dasharray="1 2" shape-rendering="crispEdges"/>
<path d="M0 616.5H1213M0 665.5H1213" stroke="#c87d0a" stroke-width="1"/>
<path d="M0 641.5H1213" stroke="#0cc0c8" stroke-width="1"/>
<rect x="12.4" y="584" width="30.9" height="8" rx="4" fill="#7c7c7c"/>
<rect x="48.4" y="584" width="12.399999999999999" height="8" rx="4" fill="#7c7c7c"/>
<rect x="89.7" y="584" width="19.5" height="8" rx="4" fill="#7c7c7c"/>
<rect x="458" y="584" width="13.199999999999989" height="8" rx="4" fill="#fff"/>
<rect x="503" y="584" width="13" height="8" rx="4" fill="#fff"/>
<rect x="610" y="584" width="10" height="8" rx="4" fill="#fff"/>
<rect x="638" y="584" width="13" height="8" rx="4" fill="#fff"/>
<rect x="1080.3" y="689.5" width="34.700000000000045" height="8" rx="4" fill="#fff"/>
<text x="7.2" y="596" font-size="12.2" fill="#c8c8c8" font-weight="500" text-anchor="start" textLength="96.8" lengthAdjust="spacingAndGlyphs" >价差交易模型_F3</text>
<text x="113" y="596" font-size="13" fill="#ff00ff" font-weight="normal" text-anchor="start" textLength="12.3" lengthAdjust="spacingAndGlyphs" >22</text>
<text x="133" y="596" font-size="13" fill="#fff" font-weight="bold" text-anchor="start" textLength="12.3" lengthAdjust="spacingAndGlyphs" >19</text>
<text x="153" y="596" font-size="13" fill="#1e9af0" font-weight="normal" text-anchor="start" textLength="12" lengthAdjust="spacingAndGlyphs" >15</text>
<text x="177.85" y="596.5" font-size="14" fill="#c8c8c8" font-weight="normal" text-anchor="middle" >∅</text>
<text x="197.2" y="596.5" font-size="14" fill="#c8c8c8" font-weight="normal" text-anchor="middle" >∅</text>
<text x="215.79999999999998" y="596.5" font-size="14" fill="#c8c8c8" font-weight="normal" text-anchor="middle" >∅</text>
<text x="234.9" y="596.5" font-size="14" fill="#c8c8c8" font-weight="normal" text-anchor="middle" >∅</text>
<text x="52.5" y="723" font-size="12" fill="#1e1e1e" font-weight="normal" text-anchor="middle" textLength="12.4" lengthAdjust="spacingAndGlyphs" stroke="#1e1e1e" stroke-width="0.4">13</text>
<text x="160.6" y="723" font-size="12" fill="#1e1e1e" font-weight="normal" text-anchor="middle" textLength="12.4" lengthAdjust="spacingAndGlyphs" stroke="#1e1e1e" stroke-width="0.4">14</text>
<text x="268.6" y="723" font-size="12" fill="#1e1e1e" font-weight="normal" text-anchor="middle" textLength="12.4" lengthAdjust="spacingAndGlyphs" stroke="#1e1e1e" stroke-width="0.4">15</text>
<text x="376.7" y="723" font-size="12" fill="#1e1e1e" font-weight="normal" text-anchor="middle" textLength="12.4" lengthAdjust="spacingAndGlyphs" stroke="#1e1e1e" stroke-width="0.4">16</text>
<text x="484.8" y="723" font-size="12" fill="#1e1e1e" font-weight="normal" text-anchor="middle" textLength="12.4" lengthAdjust="spacingAndGlyphs" stroke="#1e1e1e" stroke-width="0.4">17</text>
<text x="592.8" y="723" font-size="12" fill="#1e1e1e" font-weight="normal" text-anchor="middle" textLength="12.4" lengthAdjust="spacingAndGlyphs" stroke="#1e1e1e" stroke-width="0.4">18</text>
<text x="700.9" y="723" font-size="12" fill="#1e1e1e" font-weight="normal" text-anchor="middle" textLength="12.4" lengthAdjust="spacingAndGlyphs" stroke="#1e1e1e" stroke-width="0.4">19</text>
<text x="809.0" y="723" font-size="12" fill="#1e1e1e" font-weight="normal" text-anchor="middle" textLength="12.4" lengthAdjust="spacingAndGlyphs" stroke="#1e1e1e" stroke-width="0.4">20</text>
<text x="917.1" y="723" font-size="12" fill="#1e1e1e" font-weight="normal" text-anchor="middle" textLength="12.4" lengthAdjust="spacingAndGlyphs" stroke="#1e1e1e" stroke-width="0.4">21</text>
<text x="1025.1" y="723" font-size="12" fill="#1e1e1e" font-weight="normal" text-anchor="middle" textLength="12.4" lengthAdjust="spacingAndGlyphs" stroke="#1e1e1e" stroke-width="0.4">22</text>
<text x="1133.2" y="723" font-size="12" fill="#1e1e1e" font-weight="normal" text-anchor="middle" textLength="12.4" lengthAdjust="spacingAndGlyphs" stroke="#1e1e1e" stroke-width="0.4">23</text>
<g fill="none" stroke="#000" stroke-width="3" stroke-linejoin="round"><path d="M8.9 676.1h13.4v14.4h-7.5v-8.9h-5.9z"/><circle cx="26.2" cy="679.3" r="2.45"/><path d="M30.7 676.1h8.3l-5.1 14.4h-8.2z"/></g>
<g fill="#d9d9d9"><path d="M8.9 676.1h13.4v14.4h-7.5v-8.9h-5.9z"/><circle cx="26.2" cy="679.3" r="2.45"/><path d="M30.7 676.1h8.3l-5.1 14.4h-8.2z"/></g>
<text x="46.7" y="690.6" font-size="20.5" fill="#d9d9d9" font-weight="bold" text-anchor="start" textLength="120.2" lengthAdjust="spacingAndGlyphs" stroke="#000" stroke-width="3" paint-order="stroke" stroke-linejoin="round">TradingView</text>
</svg>
</body></html>
